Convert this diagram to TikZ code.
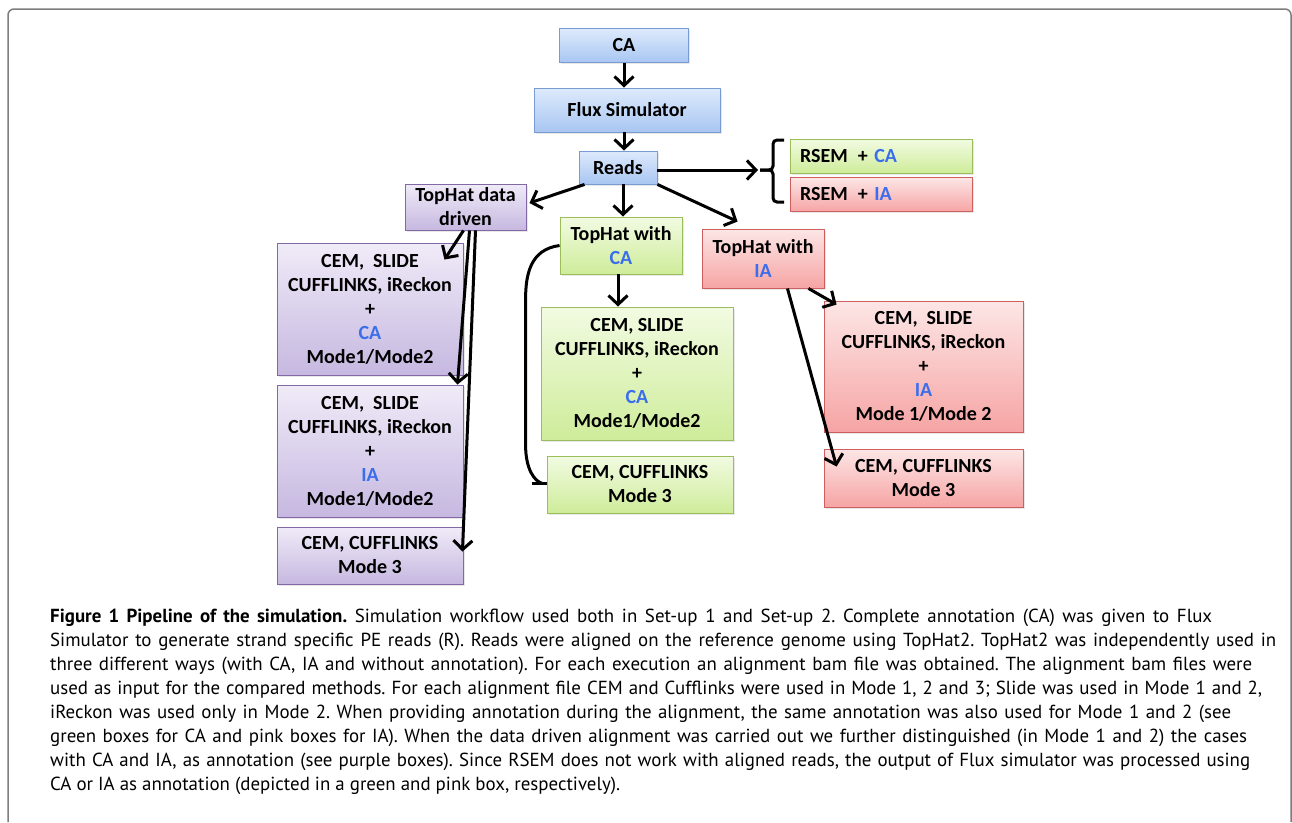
\documentclass[tikz,border=0pt]{standalone}
\usepackage{fontspec}
\setmainfont{Carlito}
\newfontfamily\capfont{PT Sans}
\usetikzlibrary{arrows.meta,calc,shadows}
\definecolor{annblue}{RGB}{58,110,235}
\definecolor{bluetop}{RGB}{222,234,252}
\definecolor{bluebot}{RGB}{168,198,242}
\definecolor{blueline}{RGB}{120,155,210}
\definecolor{greentop}{RGB}{242,251,226}
\definecolor{greenbot}{RGB}{206,236,154}
\definecolor{greenline}{RGB}{155,190,90}
\definecolor{pinktop}{RGB}{253,230,230}
\definecolor{pinkbot}{RGB}{246,164,164}
\definecolor{pinkline}{RGB}{205,95,95}
\definecolor{purptop}{RGB}{240,235,248}
\definecolor{purpbot}{RGB}{198,184,224}
\definecolor{purpline}{RGB}{130,104,165}
\definecolor{framegray}{RGB}{125,125,125}
\tikzset{
  boxbase/.style={inner sep=0pt, align=center, line width=0.9pt,
    font=\bfseries\fontsize{20}{24}\selectfont,
    drop shadow={shadow xshift=1.5pt, shadow yshift=-1.5pt, opacity=0.18}},
  bluebox/.style={boxbase, draw=blueline, top color=bluetop, bottom color=bluebot},
  greenbox/.style={boxbase, draw=greenline, top color=greentop, bottom color=greenbot},
  pinkbox/.style={boxbase, draw=pinkline, top color=pinktop, bottom color=pinkbot},
  purplebox/.style={boxbase, draw=purpline, top color=purptop, bottom color=purpbot},
  rsembox/.style={minimum height=34pt, text width=162pt, align=left, inner xsep=10pt},
  conn/.style={line width=3pt, -{Straight Barb[length=9pt,width=19pt]}},
  capline/.style={anchor=base west, inner sep=0pt, font=\capfont\fontsize{18.9}{24}\selectfont},
}
\begin{document}
\frenchspacing
\begin{tikzpicture}[x=1pt,y=-1pt]
\useasboundingbox (0,0) rectangle (1292,822);
\fill[white] (0,0) rectangle (1292,822);
% frame
\draw[framegray, line width=1.5pt, rounded corners=6pt] (8,822) -- (8,9) -- (1291,9) -- (1291,822);

% nodes
\node[bluebox, minimum width=129pt, minimum height=34pt] (ca) at (624,45.5) {CA};
\node[bluebox, minimum width=186pt, minimum height=44pt] (flux) at (627,110) {Flux Simulator};
\node[bluebox, minimum width=78pt, minimum height=33pt] (reads) at (618,167.5) {Reads};
\node[greenbox, rsembox] (rsemca) at (881,156) {RSEM\ \,+ \textcolor{annblue}{CA}};
\node[pinkbox, rsembox] (rsemia) at (881,194.5) {RSEM\ \,+ \textcolor{annblue}{IA}};
\node[purplebox, minimum width=121pt, minimum height=46pt] (thdd) at (465.5,207) {TopHat data\\driven};
\node[greenbox, minimum width=122pt, minimum height=57pt] (thca) at (621,245.5) {TopHat with\\\textcolor{annblue}{CA}};
\node[pinkbox, minimum width=122pt, minimum height=59pt] (thia) at (763,258.5) {TopHat with\\\textcolor{annblue}{IA}};
\node[purplebox, minimum width=186pt, minimum height=132pt] (p1) at (370,309) {CEM,\ \ SLIDE\\CUFFLINKS, iReckon\\+\\\textcolor{annblue}{CA}\\Mode1/Mode2};
\node[purplebox, minimum width=186pt, minimum height=132pt] (p2) at (370,451) {CEM,\ \ SLIDE\\CUFFLINKS, iReckon\\+\\\textcolor{annblue}{IA}\\Mode1/Mode2};
\node[purplebox, minimum width=186pt, minimum height=57pt] (p3) at (370,555.5) {CEM, CUFFLINKS\\Mode 3};
\node[greenbox, minimum width=192pt, minimum height=133pt] (g1) at (637,373.5) {CEM, SLIDE\\CUFFLINKS, iReckon\\+\\\textcolor{annblue}{CA}\\Mode1/Mode2};
\node[greenbox, minimum width=186pt, minimum height=57pt] (g2) at (640,484.5) {CEM, CUFFLINKS\\Mode 3};
\node[pinkbox, minimum width=199pt, minimum height=131pt] (k1) at (923.5,366.5) {CEM,\ \ SLIDE\\CUFFLINKS, iReckon\\+\\\textcolor{annblue}{IA}\\Mode 1/Mode 2};
\node[pinkbox, minimum width=199pt, minimum height=58pt] (k2) at (923.5,478) {CEM, CUFFLINKS\\Mode 3};

% brace
\coordinate (bt) at (760,170);
\draw[line width=3pt, rounded corners=4pt] (784,140) -- (773,140) -- (773,170) -- (bt);
\draw[line width=3pt, rounded corners=4pt] (bt) -- (773,170) -- (773,202) -- (784,202);

% helper coordinates
\coordinate (r5) at ($(reads.south)+(5,0)$);
\coordinate (t3) at ($(thca.south)+(-3,0)$);

% connectors
\draw[conn] (ca.south) -- (ca.south |- flux.north);
\draw[conn] (ca.south |- flux.south) -- (ca.south |- reads.north);
\draw[conn, shorten >=2pt] (reads.east |- bt) -- (bt);
\draw[conn] ($(reads.south west)+(6,0)$) -- ($(thdd.east)+(3,-4)$);
\draw[conn] (r5) -- (r5 |- thca.north);
\draw[conn] (reads.south east) -- ($(thia.north west)+(36,-7)$);
\draw[conn] ($(thdd.south)+(-2,0)$) -- ($(p1.north east)+(-19,17)$);
\draw[conn] ($(thdd.south)+(4,0)$) -- ($(p2.north east)+(-6,0)$);
\draw[conn] ($(thdd.south)+(10,0)$) -- ($(p3.north east)+(-1,25)$);
\draw[conn] (t3) -- (t3 |- g1.north);
\draw[conn] ($(thia.south east)+(-16,0)$) -- ($(k1.north west)+(13,4)$);
\draw[conn] ($(thia.south east)+(-37,0)$) -- ($(k2.north west)+(13,18)$);
\draw[line width=3pt] (thca.west) .. controls ($(thca.west)+(-30,4)$) and ($(thca.west)+(-34,30)$) .. ($(thca.west)+(-34,55)$)
  -- ($(g2.west)+(-21,-40)$) .. controls ($(g2.west)+(-21,-15)$) and ($(g2.west)+(-12,-3)$) .. ($(g2.west)+(-4,-1)$);
\draw[line width=3pt] ($(g2.west)+(-15,-1)$) -- ($(g2.west)+(0,-1)$);

% caption
\node[capline] (c1) at (50,622) {\makebox[1162pt][s]{\textbf{Figure 1 Pipeline of the simulation.} Simulation workflow used both in Set-up 1 and Set-up 2. Complete annotation (CA) was given to Flux}};
\node[capline] (c2) at (50,646) {\makebox[1226pt][s]{Simulator to generate strand specific PE reads (R). Reads were aligned on the reference genome using TopHat2. TopHat2 was independently used in}};
\node[capline] (c3) at (50,670) {\makebox[1202pt][s]{three different ways (with CA, IA and without annotation). For each execution an alignment bam file was obtained. The alignment bam files were}};
\node[capline] (c4) at (50,694) {\makebox[1212pt][s]{used as input for the compared methods. For each alignment file CEM and Cufflinks were used in Mode 1, 2 and 3; Slide was used in Mode 1 and 2,}};
\node[capline] (c5) at (50,718) {\makebox[1181pt][s]{iReckon was used only in Mode 2. When providing annotation during the alignment, the same annotation was also used for Mode 1 and 2 (see}};
\node[capline] (c6) at (50,742) {\makebox[1197pt][s]{green boxes for CA and pink boxes for IA). When the data driven alignment was carried out we further distinguished (in Mode 1 and 2) the cases}};
\node[capline] (c7) at (50,766) {\makebox[1200pt][s]{with CA and IA, as annotation (see purple boxes). Since RSEM does not work with aligned reads, the output of Flux simulator was processed using}};
\node[capline] (c8) at (50,790) {CA or IA as annotation (depicted in a green and pink box, respectively).};
\end{tikzpicture}
\end{document}
